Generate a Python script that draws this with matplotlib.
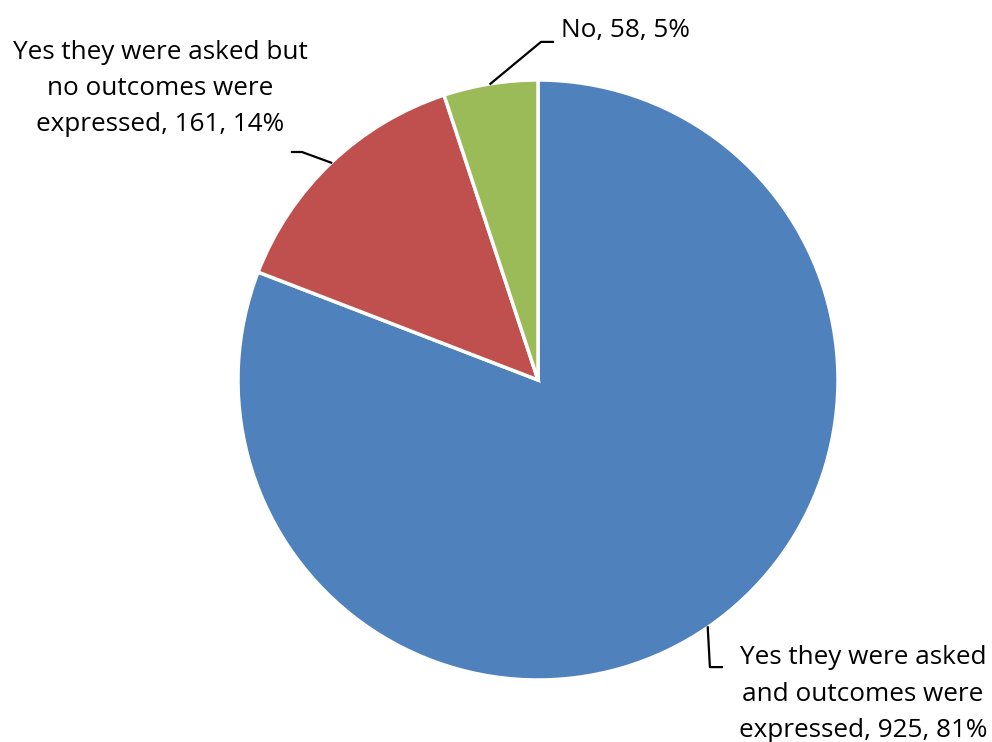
import numpy as np
import matplotlib
matplotlib.use("Agg")
import matplotlib.pyplot as plt

labels = ["Yes they were asked\nand outcomes were\nexpressed", "Yes they were asked but\nno outcomes were\nexpressed", "No"]
counts = [925, 161, 58]
colors = ["#4F81BD", "#C0504D", "#9BBB59"]

plt.rcParams['font.family'] = ['Open Sans', 'DejaVu Sans']

fig = plt.figure(figsize=(9.92, 7.42), dpi=100)
# pie centre at (538, 380) px, radius 300 px
ax = fig.add_axes([238 / 992, 62 / 742, 600 / 992, 600 / 742])
wedges, _ = ax.pie(counts, colors=colors, startangle=90, counterclock=False,
                   radius=1, wedgeprops=dict(edgecolor="white", linewidth=2.5))
ax.set_xlim(-1, 1)
ax.set_ylim(-1, 1)
ax.set_aspect("equal")
ax.axis("off")

total = sum(counts)
label_text = ["%s, %d, %d%%" % (lab, c, round(c / total * 100)) for lab, c in zip(labels, counts)]

# elbow / end of leader, text position (data units, radius = 1)
elbows = [(0.573, -0.957), (-0.787, 0.76), (0.01, 1.127)]
ends = [(0.613, -0.957), (-0.82, 0.76), (0.05, 1.127)]
text_pos = [(1.083, -1.047), (-1.26, 0.972), (0.29, 1.165)]

for w, el, en, tp, txt in zip(wedges, elbows, ends, text_pos, label_text):
    mid = np.deg2rad((w.theta1 + w.theta2) / 2)
    x0, y0 = np.cos(mid), np.sin(mid)
    ax.plot([x0, el[0], en[0]], [y0, el[1], en[1]], color="black", lw=1.6, clip_on=False)
    ax.text(tp[0], tp[1], txt, ha="center", va="center", fontsize=18.8,
            linespacing=1.6, color="black")

fig.savefig("out.png", dpi=100)
